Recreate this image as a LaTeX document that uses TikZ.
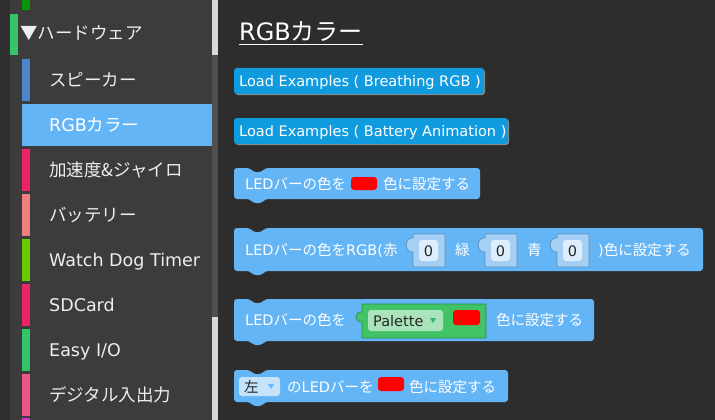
\documentclass[tikz,border=0pt]{standalone}
\usepackage{fontspec}
\setmainfont{DejaVu Sans}
\newfontfamily\jpfont{Noto Sans CJK JP}
\newcommand{\jtxt}[1]{{\jpfont #1}}

\definecolor{stripbg}{RGB}{47,47,47}
\definecolor{sidebg}{RGB}{60,60,60}
\definecolor{workbg}{RGB}{45,45,45}
\definecolor{scrolllight}{RGB}{216,216,216}
\definecolor{scrolldark}{RGB}{80,80,80}
\definecolor{sidetext}{RGB}{238,238,238}
\definecolor{catgreen}{RGB}{10,150,10}
\definecolor{hwgreen}{RGB}{55,196,104}
\definecolor{spkblue}{RGB}{74,134,200}
\definecolor{accred}{RGB}{238,34,102}
\definecolor{batsalmon}{RGB}{240,128,128}
\definecolor{wdgreen}{RGB}{102,204,0}
\definecolor{iogreen}{RGB}{51,196,106}
\definecolor{digpink}{RGB}{238,85,136}
\definecolor{nextpurple}{RGB}{204,51,204}
\definecolor{loadblue}{RGB}{16,155,222}
\definecolor{ledblue}{RGB}{100,181,246}
\definecolor{socketblue}{RGB}{165,208,243}
\definecolor{socketedge}{RGB}{90,140,185}
\definecolor{fieldblue}{RGB}{220,238,251}
\definecolor{dropblue}{RGB}{197,227,251}
\definecolor{palgreen}{RGB}{66,195,102}
\definecolor{paledge}{RGB}{40,140,70}
\definecolor{palfield}{RGB}{170,228,186}
\definecolor{palarrow}{RGB}{60,176,106}

% statement block with notch and tab: x0, y0, x1, y1
\newcommand{\stmtblock}[4]{%
  \fill[ledblue, rounded corners=3pt] (#1,#2) -- (250,#2) -- (253,#2+4) -- (262,#2+4) -- (265,#2)
    -- (#3,#2) -- (#3,#4) -- (265,#4) -- (262,#4+4) -- (253,#4+4) -- (250,#4) -- (#1,#4) -- cycle;}
% value socket of the RGB block: name, x, value
\newcommand{\rgbsocket}[3]{%
  \filldraw[socketblue, draw=socketedge, line width=0.6pt] (#2,234) -- (#2+32,234) -- (#2+32,267) -- (#2,267)
    -- (#2,252) .. controls (#2-9,253) and (#2-9,237) .. (#2,238) -- cycle;
  \fill[fieldblue, rounded corners=3pt] (#2+6,240) rectangle (#2+25,261);
  \node[blocktxt, anchor=base, text=black!85] (#1) at (#2+15.5,256) {#3};}

\begin{document}
\begin{tikzpicture}[x=1pt,y=-1pt,
    sidetxt/.style={anchor=base west, inner sep=0pt, text=sidetext, font=\fontsize{17.5}{20}\selectfont},
    blocktxt/.style={anchor=base west, inner sep=0pt, text=white, font=\fontsize{14.5}{17}\selectfont},
    swatch/.style={fill=red, rounded corners=3pt},
    loadblock/.style={fill=loadblue, rounded corners=3pt}]
    \useasboundingbox (0,0) rectangle (715,420);

    % Draw backgrounds
    \fill[stripbg] (0,0) rectangle (10,420);
    \fill[sidebg] (10,0) rectangle (212,420);
    \fill[workbg] (218,0) rectangle (715,420);
    % Scrollbar
    \fill[scrolllight] (212,0) rectangle (218,55);
    \fill[scrolldark] (212,55) rectangle (218,317);
    \fill[scrolllight] (212,317) rectangle (218,420);

    % Category
    \fill[catgreen] (22,0) rectangle (30,10);
    \fill[hwgreen] (10,14) rectangle (18,55);
    \node[sidetxt] (hw) at (20,40) {\jtxt{▼ハードウェア}};

    % Sub items
    \foreach \y/\col/\nm/\txt in {59/spkblue/spk/{\jtxt{スピーカー}}, 149/accred/acc/{\jtxt{加速度\&ジャイロ}},
        194/batsalmon/bat/{\jtxt{バッテリー}}, 239/wdgreen/wdt/{Watch Dog Timer}, 284/accred/sdc/{SDCard},
        329/iogreen/eio/{Easy I/O}, 374/digpink/dio/{\jtxt{デジタル入出力}}}
    {
        \fill[\col] (22,\y) rectangle (30,\y+42);
        \node[sidetxt] (\nm) at (49,\y+27) {\txt};
    }
    \fill[nextpurple] (22,418) rectangle (30,420);
    % Selected item
    \fill[ledblue] (22,104) rectangle (212,146);
    \node[sidetxt, text=white] (rgbitem) at (49,131) {RGB\jtxt{カラー}};

    % Title
    \node[anchor=base west, inner sep=0pt, text=white, font=\fontsize{24}{28}\selectfont] (title) at (239,41) {RGB\jtxt{カラー}};
    \draw[white, line width=1.5pt] ([yshift=-3.5pt]title.base west) -- ([yshift=-3.5pt]title.base east);

    % Example buttons
    \fill[black!45, rounded corners=3pt] (235,69) rectangle (485,95);
    \fill[loadblock] (234,68) rectangle (484,94);
    \node[blocktxt] (ex1) at (239,86) {Load Examples ( Breathing RGB )};
    \fill[black!45, rounded corners=3pt] (235,119) rectangle (509,145);
    \fill[loadblock] (234,118) rectangle (508,144);
    \node[blocktxt] (ex2) at (239,136) {Load Examples ( Battery Animation )};

    % Block: colour swatch
    \stmtblock{234}{168}{480}{199}
    \node[blocktxt] (led1) at (245,189) {LED\jtxt{バーの色を}};
    \fill[swatch] (351,177) rectangle (377,190);
    \node[blocktxt] (set1) at (383,189) {\jtxt{色に設定する}};

    % Block: RGB values
    \stmtblock{234}{228}{703}{271}
    \node[blocktxt] (led2) at (245,255) {LED\jtxt{バーの色を}RGB(\jtxt{赤}};
    \rgbsocket{red0}{413}{0}
    \node[blocktxt] (grn) at (455,255) {\jtxt{緑}};
    \rgbsocket{grn0}{485}{0}
    \node[blocktxt] (blu) at (527,255) {\jtxt{青}};
    \rgbsocket{blu0}{557}{0}
    \node[blocktxt] (set2) at (598,255) {)\jtxt{色に設定する}};

    % Block: palette
    \stmtblock{234}{299}{594}{341}
    \node[blocktxt] (led3) at (245,325) {LED\jtxt{バーの色を}};
    \filldraw[palgreen, draw=paledge, line width=0.6pt] (362,304) -- (486,304) -- (486,338) -- (362,338)
        -- (362,322) .. controls (354,323) and (354,311) .. (362,312) -- cycle;
    \fill[palfield, rounded corners=3pt] (368,310) rectangle (443,331);
    \node[blocktxt, text=black!85] (pal) at (373,326) {Palette};
    \fill[palarrow] (430,318) -- (436,318) -- (433,323) -- cycle;
    \fill[swatch] (453,310) rectangle (480,325);
    \node[blocktxt] (set3) at (496,325) {\jtxt{色に設定する}};

    % Block: left bar
    \stmtblock{234}{370}{508}{402}
    \fill[dropblue, rounded corners=3pt] (239,377) rectangle (280,396);
    \node[blocktxt, text=black!85] (side) at (244,392) {\jtxt{左}};
    \fill[ledblue] (268,384) -- (274,384) -- (271,389) -- cycle;
    \node[blocktxt] (led4) at (287,392) {\jtxt{の}LED\jtxt{バーを}};
    \fill[swatch] (378,377) rectangle (404,391);
    \node[blocktxt] (set4) at (409,392) {\jtxt{色に設定する}};
\end{tikzpicture}
\end{document}
